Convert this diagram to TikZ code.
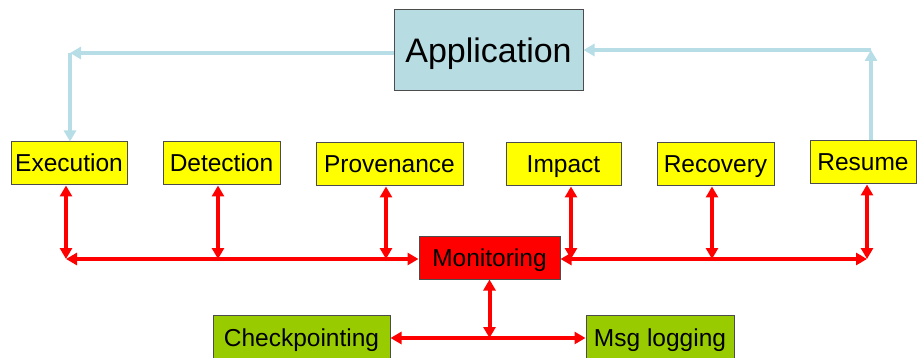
\documentclass[tikz,border=0pt]{standalone}
\usepackage{fontspec}
\setmainfont{Liberation Sans}
\usetikzlibrary{arrows.meta, positioning}

\definecolor{appblue}{HTML}{B7DDE3}
\definecolor{linkblue}{HTML}{B7DDE6}
\definecolor{boxyellow}{HTML}{FFFF00}
\definecolor{monred}{HTML}{FF0000}
\definecolor{ckgreen}{HTML}{99CC00}

\begin{document}
\begin{tikzpicture}[x=1pt, y=-1pt,
      app/.style={draw=black!70, line width=1pt, fill=appblue, minimum width=189pt, minimum height=81pt, inner sep=0pt, text height=28pt, text depth=2pt, font=\fontsize{34}{38}\selectfont},
      phase/.style={draw=black!70, line width=1pt, fill=boxyellow, minimum height=43pt, inner sep=0pt, text height=20pt, text depth=3pt, font=\fontsize{24.5}{28}\selectfont},
      monitor/.style={draw=black!70, line width=1pt, fill=monred, minimum width=141pt, minimum height=43pt, inner sep=0pt, text height=20pt, text depth=3pt, font=\fontsize{24.5}{28}\selectfont},
      support/.style={draw=black!70, line width=1pt, fill=ckgreen, minimum height=45pt, inner sep=0pt, text height=20pt, text depth=3pt, font=\fontsize{24.5}{28}\selectfont},
      redarrow/.style={{Triangle[length=11pt,width=12pt]}-{Triangle[length=11pt,width=12pt]}, line width=4pt, draw=monred},
      bluearrow/.style={-{Triangle[length=11pt,width=12pt]}, line width=4.5pt, draw=linkblue}
    ]
    \useasboundingbox (0,0) rectangle (918,358);

    % Nodes
    \node[app] (app) at (488.5, 50) {Application};
    \node[phase, minimum width=116pt] (exec) at (69, 163.5) {Execution};
    \node[phase, minimum width=117pt] (det) at (221.5, 163.5) {Detection};
    \node[phase, minimum width=147pt] (prov) at (389.5, 164.5) {Provenance};
    \node[phase, minimum width=115pt] (imp) at (563.5, 164.5) {Impact};
    \node[phase, minimum width=117pt] (rec) at (715.5, 164.5) {Recovery};
    \node[phase, minimum width=106pt] (res) at (863, 162.5) {Resume};
    \node[monitor] (mon) at (489.5, 257.5) {Monitoring};
    \node[support, minimum width=177pt] (chk) at (301.5, 338) {Checkpointing};
    \node[support, minimum width=148pt] (msg) at (660, 338) {Msg logging};

    % Bus ends
    \coordinate (busL) at (66, 259);
    \coordinate (busR) at (867, 259);
    \coordinate (tapL) at (70, 53);
    \coordinate (tapR) at (871, 50);

    % Application loop
    \draw[bluearrow] (app.west |- tapL) -- (tapL);
    \draw[bluearrow] (tapL) -- (tapL |- exec.north);
    \draw[bluearrow] (tapR |- res.north) -- (tapR);
    \draw[bluearrow] (tapR) -- (app.east |- tapR);

    % Monitoring bus
    \draw[redarrow] (busL) -- (mon.west |- busL);
    \draw[redarrow] (mon.east |- busR) -- (busR);
    \draw[redarrow] (busL |- exec.south) -- (busL);
    \draw[redarrow] ([xshift=-3.5pt]det.south) -- ([xshift=-3.5pt]det.south |- busL);
    \draw[redarrow] ([xshift=-3.5pt]prov.south) -- ([xshift=-3.5pt]prov.south |- busL);
    \draw[redarrow] ([xshift=7.5pt]imp.south) -- ([xshift=7.5pt]imp.south |- busL);
    \draw[redarrow] ([xshift=-3.5pt]rec.south) -- ([xshift=-3.5pt]rec.south |- busL);
    \draw[redarrow] (busR |- res.south) -- (busR);

    % Logging
    \draw[redarrow] (mon.south) -- (mon.south |- chk.east);
    \draw[redarrow] (chk.east) -- (msg.west);

\end{tikzpicture}
\end{document}
